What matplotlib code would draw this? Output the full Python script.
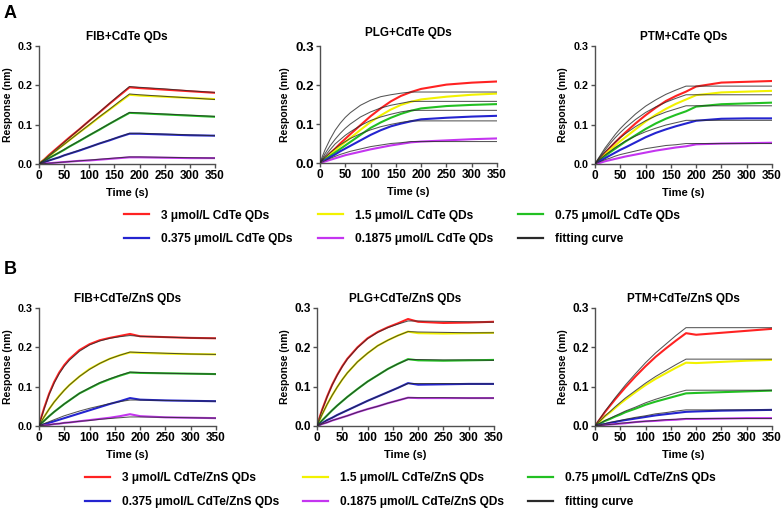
import matplotlib
matplotlib.use('Agg')
import matplotlib.pyplot as plt
from matplotlib.lines import Line2D
from matplotlib.ticker import FormatStrFormatter

plt.rcParams['font.family'] = ['Liberation Sans', 'DejaVu Sans']
plt.rcParams['font.weight'] = 'bold'

FIG_W, FIG_H = 784, 511

time_s = [0, 5, 10, 20, 30, 40, 50, 60, 80, 100, 120, 140, 160, 180, 200, 250, 300, 350]

conc_colors = ['#ff2222', '#f2f200', '#22c022', '#2424d0', '#c435f0']
fit_color = '#2a2a2a'

cdte_labels = ['3 \u03bcmol/L CdTe QDs', '1.5 \u03bcmol/L CdTe QDs', '0.75 \u03bcmol/L CdTe QDs',
               '0.375 \u03bcmol/L CdTe QDs', '0.1875 \u03bcmol/L CdTe QDs', 'fitting curve']
zns_labels = ['3 \u03bcmol/L CdTe/ZnS QDs', '1.5 \u03bcmol/L CdTe/ZnS QDs', '0.75 \u03bcmol/L CdTe/ZnS QDs',
              '0.375 \u03bcmol/L CdTe/ZnS QDs', '0.1875 \u03bcmol/L CdTe/ZnS QDs', 'fitting curve']

# ---- A: CdTe QDs (3, 1.5, 0.75, 0.375, 0.1875 umol/L) ----
fib_cdte = [
    [0, .006, .011, .023, .034, .045, .056, .067, .088, .110, .131, .153, .174, .195, .193, .189, .185, .181],
    [0, .005, .010, .020, .030, .040, .050, .060, .080, .099, .119, .138, .157, .176, .174, .171, .168, .165],
    [0, .004, .007, .015, .022, .029, .036, .044, .058, .073, .087, .102, .116, .130, .129, .126, .123, .120],
    [0, .002, .004, .009, .013, .017, .022, .026, .034, .043, .052, .060, .069, .077, .077, .075, .073, .072],
    [0, .000, .001, .002, .003, .004, .005, .006, .008, .009, .011, .013, .015, .017, .017, .016, .015, .015],
]
fib_cdte_fit = [
    [0, .006, .011, .022, .033, .044, .055, .066, .088, .110, .132, .154, .176, .197, .195, .191, .186, .182],
    [0, .005, .010, .020, .030, .040, .050, .060, .080, .100, .120, .139, .159, .178, .176, .172, .168, .164],
    [0, .004, .007, .015, .022, .029, .037, .044, .059, .073, .088, .102, .117, .131, .130, .127, .124, .121],
    [0, .002, .004, .009, .013, .017, .022, .026, .035, .043, .052, .061, .069, .078, .078, .076, .074, .072],
    [0, .001, .001, .002, .003, .004, .005, .006, .008, .010, .012, .014, .016, .018, .018, .017, .016, .015],
]
plg_cdte = [
    [0, .006, .012, .025, .037, .050, .062, .074, .097, .120, .140, .158, .172, .182, .190, .201, .206, .209],
    [0, .005, .011, .022, .033, .044, .054, .064, .085, .105, .122, .137, .149, .157, .163, .170, .175, .178],
    [0, .005, .009, .018, .027, .036, .045, .054, .072, .090, .104, .116, .126, .134, .140, .146, .149, .151],
    [0, .004, .007, .015, .022, .030, .037, .044, .058, .072, .084, .094, .101, .107, .112, .116, .119, .121],
    [0, .002, .004, .008, .012, .016, .020, .023, .029, .035, .040, .045, .049, .053, .055, .058, .061, .063],
]
plg_cdte_fit = [
    [0, .018, .034, .061, .084, .102, .117, .129, .148, .161, .170, .175, .179, .182, .182, .182, .182, .182],
    [0, .012, .024, .044, .061, .076, .089, .100, .118, .131, .141, .148, .153, .158, .158, .158, .158, .158],
    [0, .009, .018, .034, .049, .060, .071, .080, .096, .109, .118, .125, .131, .135, .135, .135, .135, .135],
    [0, .007, .014, .026, .037, .047, .055, .063, .075, .085, .093, .099, .104, .108, .108, .108, .108, .108],
    [0, .003, .006, .012, .017, .022, .026, .030, .036, .042, .046, .050, .052, .055, .055, .055, .055, .055],
]
ptm_cdte = [
    [0, .007, .014, .028, .042, .055, .068, .080, .103, .124, .143, .160, .173, .184, .197, .207, .209, .211],
    [0, .006, .012, .024, .036, .047, .058, .068, .088, .108, .125, .140, .153, .164, .175, .182, .184, .186],
    [0, .005, .010, .020, .030, .039, .048, .057, .073, .089, .103, .115, .125, .134, .146, .152, .154, .156],
    [0, .004, .008, .015, .022, .029, .036, .042, .055, .068, .079, .088, .096, .103, .110, .115, .116, .116],
    [0, .002, .003, .007, .010, .013, .016, .019, .024, .029, .034, .038, .042, .045, .050, .052, .053, .054],
]
ptm_cdte_fit = [
    [0, .011, .021, .041, .058, .075, .090, .103, .127, .147, .163, .177, .188, .198, .198, .198, .198, .198],
    [0, .010, .019, .036, .052, .067, .080, .092, .113, .131, .145, .157, .167, .176, .176, .176, .176, .176],
    [0, .008, .016, .031, .043, .056, .067, .077, .095, .110, .122, .132, .140, .148, .148, .148, .148, .148],
    [0, .006, .012, .023, .032, .042, .050, .058, .071, .082, .091, .099, .105, .111, .111, .111, .111, .111],
    [0, .003, .006, .011, .015, .020, .024, .027, .033, .039, .043, .047, .049, .052, .052, .052, .052, .052],
]

# ---- B: CdTe/ZnS QDs ----
fib_zns = [
    [0, .024, .045, .082, .112, .136, .155, .170, .193, .208, .218, .224, .229, .234, .228, .226, .224, .223],
    [0, .012, .023, .043, .061, .077, .091, .104, .126, .145, .159, .171, .180, .187, .186, .184, .183, .182],
    [0, .007, .013, .025, .036, .046, .056, .065, .083, .096, .109, .119, .128, .136, .135, .134, .133, .132],
    [0, .002, .004, .008, .012, .016, .020, .024, .032, .040, .048, .056, .063, .071, .067, .065, .064, .063],
    [0, .001, .002, .003, .005, .006, .008, .009, .012, .015, .018, .021, .025, .030, .025, .022, .021, .020],
]
fib_zns_fit = [
    [0, .023, .043, .080, .109, .133, .152, .167, .190, .206, .216, .223, .227, .230, .228, .226, .224, .223],
    [0, .012, .023, .043, .061, .076, .091, .104, .126, .144, .159, .171, .180, .188, .187, .185, .183, .182],
    [0, .007, .013, .025, .036, .046, .056, .065, .083, .097, .110, .120, .129, .137, .136, .134, .133, .132],
    [0, .003, .006, .011, .016, .021, .026, .030, .038, .045, .051, .057, .062, .066, .066, .065, .064, .063],
    [0, .001, .002, .003, .005, .006, .008, .009, .012, .014, .017, .019, .021, .023, .023, .022, .021, .020],
]
plg_zns = [
    [0, .021, .041, .075, .105, .130, .152, .171, .200, .223, .239, .251, .261, .272, .265, .262, .263, .265],
    [0, .015, .029, .055, .078, .099, .118, .135, .163, .185, .204, .218, .230, .240, .236, .235, .236, .237],
    [0, .007, .014, .027, .040, .052, .063, .074, .094, .113, .129, .145, .158, .170, .167, .166, .167, .168],
    [0, .004, .007, .015, .021, .028, .034, .040, .052, .064, .075, .086, .097, .109, .105, .106, .107, .107],
    [0, .002, .005, .009, .014, .018, .022, .026, .035, .043, .050, .058, .065, .072, .071, .071, .071, .071],
]
plg_zns_fit = [
    [0, .021, .040, .074, .104, .129, .151, .170, .199, .222, .238, .250, .259, .267, .267, .266, .265, .264],
    [0, .015, .029, .055, .078, .099, .118, .135, .163, .185, .204, .218, .230, .240, .239, .238, .237, .237],
    [0, .007, .014, .027, .040, .052, .063, .074, .094, .113, .129, .145, .158, .169, .169, .168, .168, .167],
    [0, .004, .007, .015, .021, .028, .034, .040, .052, .064, .075, .086, .097, .108, .108, .108, .107, .107],
    [0, .002, .005, .009, .014, .018, .022, .026, .035, .043, .050, .058, .065, .072, .072, .072, .071, .071],
]
ptm_zns = [
    [0, .009, .018, .036, .052, .068, .083, .098, .126, .152, .176, .197, .217, .236, .232, .237, .242, .247],
    [0, .006, .012, .025, .035, .046, .057, .067, .086, .104, .120, .134, .148, .161, .160, .163, .166, .168],
    [0, .003, .006, .013, .018, .024, .029, .035, .044, .054, .062, .069, .076, .083, .084, .086, .088, .090],
    [0, .001, .003, .005, .008, .010, .013, .015, .019, .023, .027, .030, .033, .036, .037, .039, .040, .041],
    [0, .001, .001, .003, .004, .005, .006, .007, .010, .012, .013, .015, .016, .018, .018, .019, .020, .020],
]
ptm_zns_fit = [
    [0, .010, .019, .038, .055, .072, .088, .104, .133, .161, .186, .208, .230, .250, .250, .250, .250, .250],
    [0, .007, .013, .026, .037, .049, .060, .071, .090, .109, .126, .141, .156, .170, .170, .170, .170, .170],
    [0, .004, .007, .014, .020, .026, .032, .038, .048, .059, .068, .076, .084, .091, .091, .091, .091, .091],
    [0, .002, .003, .006, .009, .012, .014, .017, .022, .026, .031, .034, .038, .041, .041, .041, .041, .041],
    [0, .001, .001, .003, .004, .005, .007, .008, .010, .012, .014, .016, .017, .019, .019, .019, .019, .019],
]


def px_box(left, top, right, bottom):
    # pixel box of the plotting area -> figure fraction rectangle
    return [left / FIG_W, 1 - bottom / FIG_H, (right - left) / FIG_W, (bottom - top) / FIG_H]


def plot_panel(fig, box, data, fit, title, ytick_size=7.7, title_pad=4.3, ylab_x=-0.18):
    ax = fig.add_axes(box)
    for values, color in zip(data, conc_colors):
        ax.plot(time_s, values, color=color, lw=1.5, zorder=2)
    for values in fit:
        ax.plot(time_s, values, color=fit_color, lw=0.75, alpha=0.8, zorder=3)
    ax.set_xlim(0, 350)
    ax.set_ylim(0, 0.3)
    ax.set_xticks(range(0, 351, 50))
    ax.set_yticks([0, 0.1, 0.2, 0.3])
    ax.yaxis.set_major_formatter(FormatStrFormatter('%.1f'))
    for side in ['top', 'right']:
        ax.spines[side].set_visible(False)
    for side in ['left', 'bottom']:
        ax.spines[side].set_color('#505050')
        ax.spines[side].set_linewidth(1.0)
    ax.tick_params(direction='out', length=3, width=1, color='#505050', pad=1.5)
    ax.tick_params(axis='x', labelsize=8.5)
    ax.tick_params(axis='y', labelsize=ytick_size)
    ax.set_title(title, fontsize=8.5, fontweight='bold', pad=title_pad)
    ax.set_xlabel('Time (s)', fontsize=8, fontweight='bold')
    ax.set_ylabel('Response (nm)', fontsize=7.5, fontweight='bold')
    ax.xaxis.label.set_va('center')
    ax.yaxis.label.set_va('center')
    ax.xaxis.set_label_coords(0.5, -29 / 118)
    ax.yaxis.set_label_coords(ylab_x, 0.5)
    return ax


def add_legend(fig, labels, left_px, mid_px, spacing):
    colors = [conc_colors[0], conc_colors[3], conc_colors[1], conc_colors[4], conc_colors[2], fit_color]
    order = [0, 3, 1, 4, 2, 5]
    handles = [Line2D([], [], color=c, lw=1.6) for c in colors]
    fig.legend(handles, [labels[i] for i in order], loc='center left',
               bbox_to_anchor=(left_px / FIG_W, 1 - mid_px / FIG_H), ncol=3, frameon=False,
               fontsize=8.6, handlelength=2.1, handletextpad=1.0, columnspacing=spacing,
               labelspacing=1.0, borderpad=0, borderaxespad=0)


fig = plt.figure(figsize=(FIG_W / 100, FIG_H / 100), dpi=100)

plot_panel(fig, px_box(39, 46, 215, 164), fib_cdte, fib_cdte_fit, 'FIB+CdTe QDs', ylab_x=-0.176)
plot_panel(fig, px_box(320, 46, 497, 163), plg_cdte, plg_cdte_fit, 'PLG+CdTe QDs',
           ytick_size=9.5, title_pad=7, ylab_x=-0.198)
plot_panel(fig, px_box(595, 46, 772, 164), ptm_cdte, ptm_cdte_fit, 'PTM+CdTe QDs', ylab_x=-0.181)

plot_panel(fig, px_box(39, 308, 216, 426), fib_zns, fib_zns_fit, 'FIB+CdTe/ZnS QDs', ylab_x=-0.176)
plot_panel(fig, px_box(317, 308, 494, 426), plg_zns, plg_zns_fit, 'PLG+CdTe/ZnS QDs',
           ytick_size=8.5, ylab_x=-0.181)
plot_panel(fig, px_box(595, 308, 772, 426), ptm_zns, ptm_zns_fit, 'PTM+CdTe/ZnS QDs',
           ytick_size=8.5, ylab_x=-0.181)

add_legend(fig, cdte_labels, 124, 227.5, 2.1)
add_legend(fig, zns_labels, 85, 490, 2.0)

fig.text(4 / FIG_W, 1 - 13 / FIG_H, 'A', fontsize=13, fontweight='bold', va='center')
fig.text(4 / FIG_W, 1 - 269 / FIG_H, 'B', fontsize=13, fontweight='bold', va='center')

fig.savefig('out.png', dpi=100)
